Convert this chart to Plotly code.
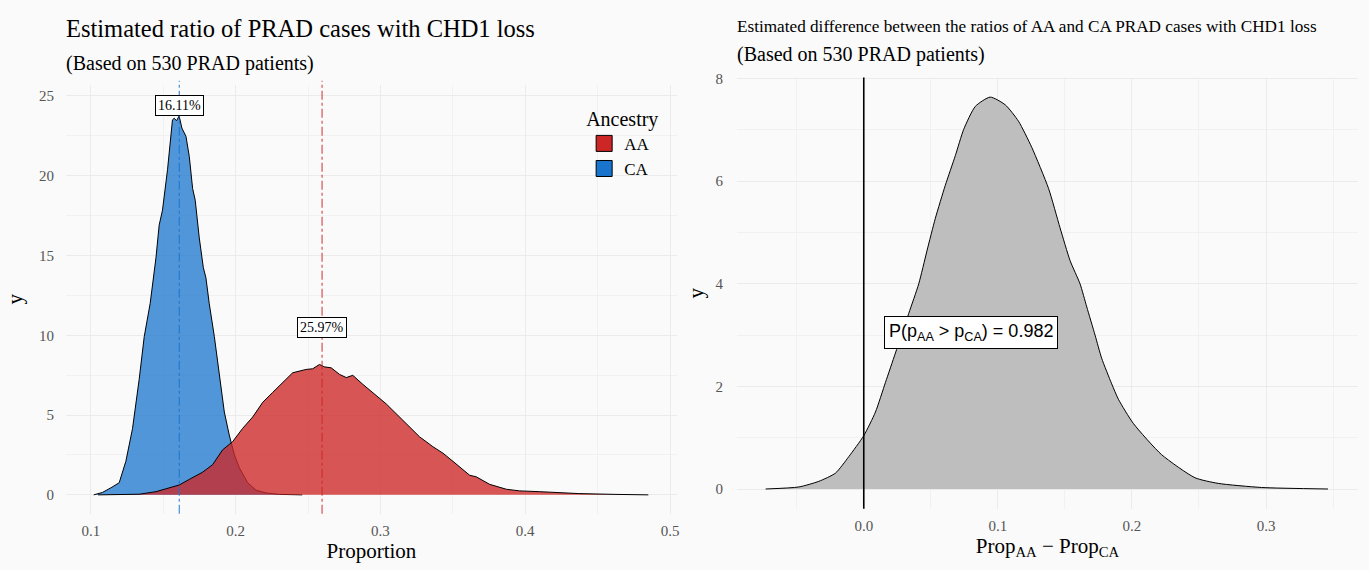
import plotly.graph_objects as go

# ---------------- data ----------------
ca_x = [0.102, 0.108, 0.114, 0.1196, 0.1242, 0.1288, 0.1334, 0.1369, 0.141, 0.145, 0.1472,
        0.1495, 0.153, 0.1564, 0.1576, 0.1592, 0.161, 0.1629, 0.1657, 0.168, 0.1703, 0.1721,
        0.1749, 0.1777, 0.1795, 0.1818, 0.1853, 0.1887, 0.1922, 0.1956, 0.1991, 0.2026, 0.206,
        0.2083, 0.2141, 0.221, 0.2302, 0.246]
ca_y = [0, 0.15, 0.45, 0.76, 2.1, 4.15, 7.24, 9.92, 12.0, 14.86, 16.9,
        17.84, 20.4, 23.5, 23.6, 23.44, 23.74, 22.98, 22.47, 21.2, 19.2, 18.46,
        16.1, 14.24, 13.6, 11.98, 9.92, 7.45, 5.19, 3.75, 2.51, 1.69, 1.17,
        0.76, 0.29, 0.12, 0.03, 0]

aa_x = [0.105, 0.1196, 0.1334, 0.145, 0.1541, 0.1611, 0.168, 0.1772, 0.1841, 0.191, 0.1979,
        0.2048, 0.2118, 0.2187, 0.2256, 0.2349, 0.2394, 0.2487, 0.2532, 0.2579, 0.2613, 0.266,
        0.2717, 0.2764, 0.2809, 0.2878, 0.2947, 0.304, 0.3155, 0.327, 0.3362, 0.3432, 0.3501,
        0.3616, 0.3662, 0.3754, 0.387, 0.3962, 0.41, 0.422, 0.437, 0.462, 0.485]
aa_y = [0, 0.02, 0.04, 0.2, 0.41, 0.62, 0.97, 1.42, 1.89, 2.82, 3.33,
        4.16, 4.88, 5.8, 6.42, 7.24, 7.65, 7.86, 7.9, 8.17, 8.02, 7.96,
        7.55, 7.35, 7.49, 6.93, 6.42, 5.7, 4.67, 3.64, 3.02, 2.61, 2.1,
        1.23, 1.13, 0.66, 0.35, 0.25, 0.2, 0.14, 0.08, 0.03, 0]

diff_x = [-0.0732, -0.0484, -0.0335, -0.0211, -0.0112, 0.0, 0.0087, 0.0162, 0.0236, 0.0335,
          0.041, 0.0471, 0.0534, 0.0608, 0.0683, 0.0745, 0.0832, 0.0943, 0.1055, 0.1154,
          0.1253, 0.1378, 0.1464, 0.1539, 0.1613, 0.1663, 0.1725, 0.1774, 0.1849, 0.1899,
          0.201, 0.2221, 0.247, 0.2643, 0.2966, 0.3462]
diff_y = [0, 0.04, 0.15, 0.31, 0.63, 1.04, 1.5, 2.08, 2.65, 3.42,
          4.0, 4.64, 5.28, 5.92, 6.5, 7.01, 7.46, 7.64, 7.49, 7.17,
          6.66, 5.86, 5.09, 4.45, 4.0, 3.55, 3.0, 2.55, 2.05, 1.75,
          1.28, 0.67, 0.22, 0.11, 0.03, 0]

groups = ["AA", "CA"]
group_colors = {"AA": "#CD2626", "CA": "#1874CD"}
group_means = {"AA": 0.2597, "CA": 0.1611}
mean_labels = {"AA": "25.97%", "CA": "16.11%"}
prob_aa_gt_ca = 0.982

left_title = "Estimated ratio of PRAD cases with CHD1 loss"
right_title = "Estimated difference between the ratios of AA and CA PRAD cases with CHD1 loss"
subtitle = "(Based on 530 PRAD patients)"

SERIF = "Liberation Serif"
SANS = "Liberation Sans"
BG = "#fafafa"
GRID = "#ebebeb"
MINOR = "#f1f1f1"

fig = go.Figure()

# blue (CA) first, red (AA) on top
fig.add_trace(go.Scatter(x=ca_x, y=ca_y, mode="lines", fill="tozeroy",
                         fillcolor="rgba(24,116,205,0.75)", line=dict(color="black", width=1),
                         showlegend=False, xaxis="x", yaxis="y"))
fig.add_trace(go.Scatter(x=aa_x, y=aa_y, mode="lines", fill="tozeroy",
                         fillcolor="rgba(205,38,38,0.78)", line=dict(color="black", width=1),
                         showlegend=False, xaxis="x", yaxis="y"))

# legend entries
for g in groups:
    fig.add_trace(go.Scatter(x=[None], y=[None], mode="markers", name=g,
                             marker=dict(symbol="square", size=16, color=group_colors[g],
                                         line=dict(color="black", width=1)),
                             xaxis="x", yaxis="y"))

# right panel density
fig.add_trace(go.Scatter(x=diff_x, y=diff_y, mode="lines", fill="tozeroy",
                         fillcolor="#bebebe", line=dict(color="black", width=1, shape="spline", smoothing=0.6),
                         showlegend=False, xaxis="x2", yaxis="y2"))

# mean lines
line_rgba = {"AA": "rgba(205,38,38,0.8)", "CA": "rgba(24,116,205,0.8)"}
for g in groups:
    fig.add_shape(type="line", xref="x", yref="y domain", x0=group_means[g], x1=group_means[g],
                  y0=0, y1=1.01, line=dict(color=line_rgba[g], width=1.2, dash="dashdot"), layer="above")
fig.add_shape(type="line", xref="x2", yref="y2 domain", x0=0, x1=0, y0=0, y1=1,
              line=dict(color="black", width=1.6), layer="above")

annotations = [
    dict(text=left_title, xref="paper", yref="paper", x=64/1369, y=1-22/570, xanchor="left",
         yanchor="middle", showarrow=False, font=dict(family=SERIF, size=24.5, color="black")),
    dict(text=subtitle, xref="paper", yref="paper", x=64/1369, y=1-57/570, xanchor="left",
         yanchor="middle", showarrow=False, font=dict(family=SERIF, size=20, color="black")),
    dict(text=right_title, xref="paper", yref="paper", x=736/1369, y=1-20/570, xanchor="left",
         yanchor="middle", showarrow=False, font=dict(family=SERIF, size=17.2, color="black")),
    dict(text=subtitle, xref="paper", yref="paper", x=736/1369, y=1-48/570, xanchor="left",
         yanchor="middle", showarrow=False, font=dict(family=SERIF, size=20, color="black")),
    dict(text=mean_labels["CA"], xref="x", yref="y", x=group_means["CA"], y=24.4, showarrow=False,
         font=dict(family=SERIF, size=14, color="black"), bgcolor="white", bordercolor="black",
         borderwidth=1, borderpad=2),
    dict(text=mean_labels["AA"], xref="x", yref="y", x=group_means["AA"], y=10.5, showarrow=False,
         font=dict(family=SERIF, size=14, color="black"), bgcolor="white", bordercolor="black",
         borderwidth=1, borderpad=2),
    dict(text="P(p<sub>AA</sub> > p<sub>CA</sub>) = %.3f" % prob_aa_gt_ca, xref="x2", yref="y2",
         x=0.08, y=3.05, showarrow=False, font=dict(family=SANS, size=18, color="black"),
         bgcolor="white", bordercolor="black", borderwidth=1, borderpad=4),
]

tickfont = dict(family=SERIF, size=15, color="#555555")
titlefont = dict(family=SERIF, size=21, color="black")

fig.update_layout(
    width=1369, height=570,
    margin=dict(l=0, r=0, t=0, b=0),
    paper_bgcolor=BG, plot_bgcolor=BG,
    annotations=annotations,
    showlegend=True,
    legend=dict(x=585/1369, y=1-94/570, xanchor="left", yanchor="top",
                title=dict(text="Ancestry", font=dict(family=SERIF, size=20, color="black")),
                font=dict(family=SERIF, size=17, color="black"), bgcolor="rgba(0,0,0,0)",
                tracegroupgap=0, itemwidth=30),
    xaxis=dict(domain=[66/1369, 678/1369], range=[0.0828, 0.5048], tickvals=[0.1, 0.2, 0.3, 0.4, 0.5],
               ticktext=["0.1", "0.2", "0.3", "0.4", "0.5"], showgrid=True, gridcolor=GRID, gridwidth=1.2,
               minor=dict(dtick=0.05, tick0=0, showgrid=True, gridcolor=MINOR, gridwidth=0.8),
               zeroline=False, showline=False, ticks="outside", ticklen=3, tickcolor="rgba(0,0,0,0)",
               tickfont=tickfont, title=dict(text="Proportion", font=titlefont, standoff=4),
               anchor="y"),
    yaxis=dict(domain=[1-513/570, 1-79/570], range=[-1.18, 25.68], tickvals=[0, 5, 10, 15, 20, 25],
               showgrid=True, gridcolor=GRID, gridwidth=1.2,
               minor=dict(dtick=2.5, tick0=0, showgrid=True, gridcolor=MINOR, gridwidth=0.8),
               zeroline=False, showline=False, ticks="outside", ticklen=8, tickcolor="rgba(0,0,0,0)",
               tickfont=tickfont, title=dict(text="y", font=titlefont, standoff=10), anchor="x"),
    xaxis2=dict(domain=[738/1369, 1360/1369], range=[-0.0946, 0.3686], tickvals=[0, 0.1, 0.2, 0.3],
                ticktext=["0.0", "0.1", "0.2", "0.3"], showgrid=True, gridcolor=GRID, gridwidth=1.2,
                minor=dict(dtick=0.05, tick0=0, showgrid=True, gridcolor=MINOR, gridwidth=0.8),
                zeroline=False, showline=False, ticks="outside", ticklen=3, tickcolor="rgba(0,0,0,0)",
                tickfont=tickfont,
                title=dict(text="Prop<sub>AA</sub> \u2212 Prop<sub>CA</sub>", font=titlefont, standoff=4),
                anchor="y2"),
    yaxis2=dict(domain=[1-508/570, 1-71.5/570], range=[-0.385, 8.02], tickvals=[0, 2, 4, 6, 8],
                showgrid=True, gridcolor=GRID, gridwidth=1.2,
                minor=dict(dtick=1, tick0=0, showgrid=True, gridcolor=MINOR, gridwidth=0.8),
                zeroline=False, showline=False, ticks="outside", ticklen=10, tickcolor="rgba(0,0,0,0)",
                tickfont=tickfont, title=dict(text="y", font=titlefont, standoff=6), anchor="x2"),
)

fig.write_html("out.html")
